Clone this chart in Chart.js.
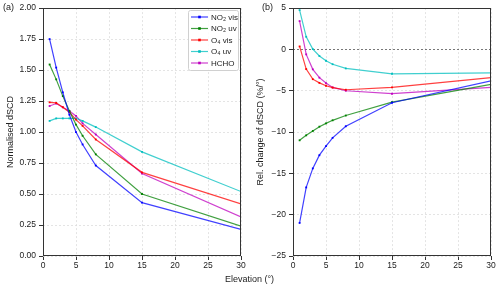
<!DOCTYPE html>
<html>
<head>
<meta charset="utf-8">
<script src="https://cdn.jsdelivr.net/npm/chart.js@4"></script>
<style>
  body { margin: 0; background: #fff; }
  #wrap { position: relative; width: 500px; height: 289px; font-family: "Liberation Sans", Arial, sans-serif; color: #222; }
  canvas { position: absolute; top: 0; }
  #chartA { left: 0; }
  #chartB { left: 250px; }
  .lbl { position: absolute; font-size: 9px; white-space: nowrap; }
</style>
</head>
<body>
<div id="wrap">
  <canvas id="chartA" width="250" height="289"></canvas>
  <canvas id="chartB" width="250" height="289"></canvas>
  <div class="lbl" style="left:3px; top:2px;">(a)</div>
  <div class="lbl" style="left:262px; top:2px;">(b)</div>
  <div class="lbl" style="left:225px; top:274px;">Elevation (°)</div>
</div>
<script>
const elevations = [1, 2, 3, 4, 5, 6, 8, 15, 30];
const seriesNames = ['NO\u2082 vis', 'NO\u2082 uv', 'O\u2084 vis', 'O\u2084 uv', 'HCHO'];
const seriesColors = ['#0000ff', '#008000', '#ff0000', '#00bfbf', '#bf00bf'];

// panel (a): normalised dSCD
const normNO2vis = [1.75, 1.52, 1.32, 1.14, 1.00, 0.90, 0.73, 0.43, 0.215];
const normNO2uv  = [1.545, 1.425, 1.29, 1.17, 1.06, 0.97, 0.82, 0.50, 0.24];
const normO4vis  = [1.24, 1.235, 1.20, 1.16, 1.10, 1.05, 0.94, 0.675, 0.42];
const normO4uv   = [1.09, 1.11, 1.11, 1.11, 1.11, 1.09, 1.04, 0.84, 0.52];
const normHCHO   = [1.21, 1.23, 1.20, 1.17, 1.13, 1.07, 0.98, 0.665, 0.315];

// panel (b): relative change of dSCD (%/deg)
const relNO2vis = [-21.0, -16.7, -14.4, -12.8, -11.7, -10.7, -9.3, -6.45, -3.8];
const relNO2uv  = [-11.0, -10.4, -9.87, -9.35, -8.95, -8.58, -8.0, -6.37, -4.23];
const relO4vis  = [0.36, -2.38, -3.6, -4.05, -4.4, -4.62, -4.88, -4.6, -3.42];
const relO4uv   = [4.76, 1.53, 0.04, -0.8, -1.37, -1.79, -2.3, -2.95, -2.85];
const relHCHO   = [3.43, -0.6, -2.41, -3.42, -4.07, -4.6, -5.0, -5.36, -4.6];

const xTicks = [0, 5, 10, 15, 20, 25, 30];
const FONT = '"Liberation Sans", Arial, sans-serif';

function withAlpha(hex, a) {
    const n = parseInt(hex.slice(1), 16);
    return `rgba(${(n >> 16) & 255},${(n >> 8) & 255},${n & 255},${a})`;
}

function makeDatasets(seriesList) {
    return seriesList.map(function(values, i) {
        return {
            label: seriesNames[i],
            data: values.map(function(v, j) { return {x: elevations[j], y: v}; }),
            borderColor: withAlpha(seriesColors[i], 0.75),
            backgroundColor: seriesColors[i],
            pointBorderColor: seriesColors[i],
            borderWidth: 1.2,
            pointRadius: 1.3,
            pointBorderWidth: 0,
            pointStyle: 'rect',
            tension: 0,
            fill: false,
        };
    });
}

const framePlugin = {
    id: 'frame',
    afterDraw(chart) {
        const a = chart.chartArea;
        const ctx = chart.ctx;
        ctx.save();
        ctx.strokeStyle = '#333';
        ctx.lineWidth = 1;
        ctx.strokeRect(Math.round(a.left) + 0.5, Math.round(a.top) + 0.5,
            Math.round(a.right - a.left) - 1, Math.round(a.bottom - a.top) - 1);
        ctx.restore();
    }
};

const legendPlugin = {
    id: 'insideLegend',
    afterDraw(chart) {
        const ctx = chart.ctx;
        const x0 = 188.5, y0 = 10.5, w = 50, h = 60;
        ctx.save();
        ctx.fillStyle = 'rgba(255,255,255,0.85)';
        ctx.strokeStyle = '#d0d0d0';
        ctx.lineWidth = 1;
        ctx.beginPath();
        ctx.roundRect(x0, y0, w, h, 2);
        ctx.fill();
        ctx.stroke();
        ctx.font = '8px ' + FONT;
        ctx.textBaseline = 'middle';
        chart.data.datasets.forEach(function(ds, i) {
            const y = 17 + i * 11.5;
            ctx.strokeStyle = ds.borderColor;
            ctx.lineWidth = 1.2;
            ctx.beginPath();
            ctx.moveTo(191, y);
            ctx.lineTo(208, y);
            ctx.stroke();
            ctx.fillStyle = ds.backgroundColor;
            ctx.fillRect(198.2, y - 1.3, 2.6, 2.6);
            ctx.fillStyle = '#222';
            ctx.fillText(ds.label, 211, y + 0.5);
        });
        ctx.restore();
    }
};

function makeOptions(yMin, yMax, yStep, yTitle, fmt, zeroLine) {
    return {
        responsive: false,
        animation: false,
        layout: {padding: {left: 0, right: 9, top: 8, bottom: 0}},
        plugins: {legend: {display: false}, tooltip: {enabled: false}},
        scales: {
            x: {
                type: 'linear',
                min: 0, max: 30,
                afterBuildTicks: function(s) { s.ticks = xTicks.map(function(v) { return {value: v}; }); },
                afterFit: function(s) { s.height = 33; },
                grid: {color: '#dddddd', lineWidth: 0.8, tickLength: 4, tickColor: '#333', tickWidth: 1},
                border: {display: false, dash: [2, 2]},
                ticks: {color: '#222', font: {size: 8.5, family: FONT}, padding: 1, maxRotation: 0},
            },
            y: {
                min: yMin, max: yMax,
                ticks: {
                    stepSize: yStep, color: '#222', font: {size: 8.5, family: FONT}, padding: 3,
                    callback: fmt,
                },
                afterFit: function(s) { s.width = 43; },
                grid: {
                    color: function(c) { return zeroLine && c.tick && c.tick.value === 0 ? '#555' : '#dddddd'; },
                    lineWidth: 0.8, tickLength: 4, tickColor: '#333', tickWidth: 1,
                },
                border: {display: false, dash: [2, 2]},
                title: {display: true, text: yTitle, color: '#222', font: {size: 9, family: FONT}, padding: {top: 5, bottom: 0}},
            }
        }
    };
}

document.addEventListener('DOMContentLoaded', function() {
    new Chart(document.getElementById('chartA'), {
        type: 'line',
        data: {datasets: makeDatasets([normNO2vis, normNO2uv, normO4vis, normO4uv, normHCHO])},
        options: makeOptions(0, 2, 0.25, 'Normalised dSCD',
            function(v) { return v.toFixed(2); }, false),
        plugins: [framePlugin, legendPlugin],
    });

    new Chart(document.getElementById('chartB'), {
        type: 'line',
        data: {datasets: makeDatasets([relNO2vis, relNO2uv, relO4vis, relO4uv, relHCHO])},
        options: makeOptions(-25, 5, 5, 'Rel. change of dSCD (%/°)',
            function(v) { return v < 0 ? '\u2212' + Math.abs(v) : String(v); }, true),
        plugins: [framePlugin],
    });
});
</script>
</body>
</html>
